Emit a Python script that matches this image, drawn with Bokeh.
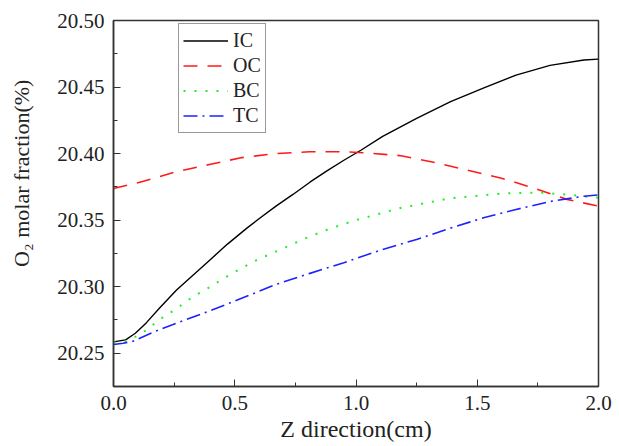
from bokeh.plotting import figure
from bokeh.models import Range1d, FixedTicker, PrintfTickFormatter, Legend, LegendItem
from bokeh.embed import file_html
from bokeh.resources import INLINE

# --- data ---
ic_x = [0.0, 0.05, 0.09, 0.135, 0.19, 0.26, 0.33, 0.40, 0.47, 0.55, 0.60, 0.67, 0.74, 0.81, 0.88, 0.95, 1.02,
        1.11, 1.25, 1.39, 1.53, 1.66, 1.80, 1.94, 2.0]
ic_y = [20.2585, 20.2600, 20.2650, 20.2728, 20.2840, 20.2975, 20.3090, 20.3205, 20.3320, 20.3440, 20.3510,
        20.3605, 20.3693, 20.3785, 20.3870, 20.3950, 20.4025, 20.4130, 20.4265, 20.4390, 20.4495, 20.4590,
        20.4663, 20.4703, 20.4710]

oc_x = [0.0, 0.12, 0.26, 0.40, 0.53, 0.67, 0.81, 0.95, 1.04, 1.18, 1.32, 1.46, 1.60, 1.73, 1.87, 2.0]
oc_y = [20.3738, 20.3790, 20.3864, 20.3920, 20.3970, 20.4000, 20.4014, 20.4014, 20.4006, 20.3985, 20.3935,
        20.3875, 20.3815, 20.3743, 20.3656, 20.3605]

bc_x = [0.0, 0.05, 0.11, 0.155, 0.20, 0.26, 0.30, 0.35, 0.40, 0.45, 0.50, 0.59, 0.69, 0.78, 0.89, 1.00, 1.18,
        1.39, 1.60, 1.76, 1.88, 2.0]
bc_y = [20.2580, 20.2590, 20.2640, 20.2703, 20.2765, 20.2834, 20.2890, 20.2948, 20.3000, 20.3059, 20.3110,
        20.3200, 20.3280, 20.3355, 20.3435, 20.3500, 20.3590, 20.3665, 20.3700, 20.3707, 20.3690, 20.3668]

tc_x = [0.0, 0.04, 0.08, 0.19, 0.30, 0.40, 0.48, 0.56, 0.67, 0.81, 0.95, 1.11, 1.25, 1.39, 1.53, 1.66, 1.80,
        1.94, 2.0]
tc_y = [20.2565, 20.2575, 20.2590, 20.2678, 20.2753, 20.2820, 20.2878, 20.2936, 20.3017, 20.3100, 20.3180,
        20.3280, 20.3355, 20.3440, 20.3520, 20.3580, 20.3640, 20.3680, 20.3690]

series_names = ["IC", "OC", "BC", "TC"]
x_ticks = [0.0, 0.5, 1.0, 1.5, 2.0]
x_minor = [0.25, 0.75, 1.25, 1.75]
y_ticks = [20.25, 20.30, 20.35, 20.40, 20.45, 20.50]
y_minor = [20.225, 20.275, 20.325, 20.375, 20.425, 20.475]
x_title = "Z direction(cm)"
y_title = "O\u2082 molar fraction(%)"

FONT = "'Liberation Serif', 'Times New Roman', 'DejaVu Serif', serif"

p = figure(width=613, height=446, output_backend="svg", toolbar_location=None,
           x_range=Range1d(0, 2.0), y_range=Range1d(20.225, 20.50),
           min_border_left=113, min_border_right=15, min_border_top=20, min_border_bottom=60)

p.xgrid.visible = False
p.ygrid.visible = False
p.outline_line_color = "#333333"
p.outline_line_width = 1.5
p.background_fill_color = "white"
p.border_fill_color = "white"

r_ic = p.line(ic_x, ic_y, line_color="black", line_width=1.4)
r_oc = p.line(oc_x, oc_y, line_color="#ff1a1a", line_width=1.6, line_dash="14 10")
r_bc = p.line(bc_x, bc_y, line_color="#22ee22", line_width=2, line_dash="2 9")
r_tc = p.line(tc_x, tc_y, line_color="#2020ff", line_width=1.6, line_dash="14 5 2 5")

for ax in (p.xaxis[0], p.yaxis[0]):
    ax.axis_line_color = "#333333"
    ax.axis_line_width = 1.5
    ax.major_tick_in = 7
    ax.major_tick_out = 0
    ax.minor_tick_in = 4
    ax.minor_tick_out = 0
    ax.major_tick_line_color = "#333333"
    ax.minor_tick_line_color = "#333333"
    ax.major_label_text_font = FONT
    ax.major_label_text_font_size = "21px"
    ax.major_label_text_color = "#222222"
    ax.axis_label_text_font = FONT
    ax.axis_label_text_font_style = "normal"
    ax.axis_label_text_color = "#222222"

p.xaxis[0].ticker = FixedTicker(ticks=x_ticks, minor_ticks=x_minor)
p.yaxis[0].ticker = FixedTicker(ticks=y_ticks, minor_ticks=y_minor)
p.xaxis[0].formatter = PrintfTickFormatter(format="%.1f")
p.yaxis[0].formatter = PrintfTickFormatter(format="%.2f")
p.xaxis[0].major_label_standoff = 9
p.yaxis[0].major_label_standoff = 9
p.xaxis[0].axis_label = x_title
p.xaxis[0].axis_label_text_font_size = "24px"
p.xaxis[0].axis_label_standoff = 3
# leading no-break spaces lift the rotated title above the frame centre, as in the reference
p.yaxis[0].axis_label = "\u00a0" * 11 + y_title
p.yaxis[0].axis_label_text_font_size = "22px"
p.yaxis[0].axis_label_standoff = 20

legend = Legend(items=[LegendItem(label=n, renderers=[r]) for n, r in
                       zip(series_names, [r_ic, r_oc, r_bc, r_tc])],
                location=(65, 253))
legend.border_line_color = "#333333"
legend.border_line_width = 1.5
legend.background_fill_alpha = 1.0
legend.label_text_font = FONT
legend.label_text_font_size = "20px"
legend.label_text_color = "#222222"
legend.glyph_width = 45
legend.glyph_height = 25
legend.label_height = 25
legend.label_standoff = 5
legend.spacing = 0
legend.padding = 4
legend.margin = 0
p.add_layout(legend, "center")

open("out.html", "w").write(file_html(p, INLINE))
